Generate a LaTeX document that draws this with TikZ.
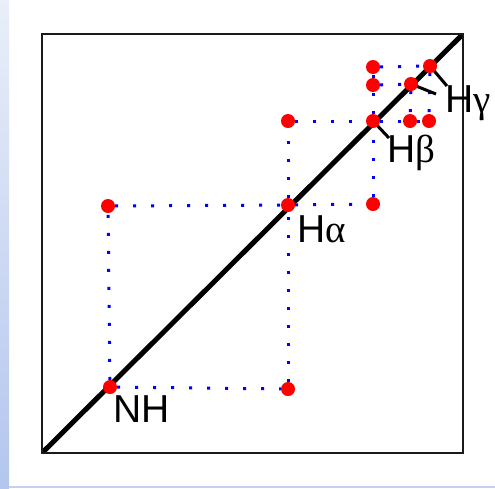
\documentclass[tikz,border=0pt]{standalone}
\usepackage{fontspec}
\setmainfont{Liberation Sans}
\newfontfamily\grk{Liberation Serif}
\usepackage{tikz}
\usetikzlibrary{
  calc,
  backgrounds
}
\definecolor{pkRed}{HTML}{FF0000}
\definecolor{pkBlue}{HTML}{0000FF}
\definecolor{pkFrame}{HTML}{1A1A1A}
\definecolor{bandTop}{HTML}{E9EEF9}
\definecolor{bandBot}{HTML}{B3C6EE}
\tikzset{
  peak/.style={circle, fill=pkRed, draw=none, inner sep=0pt, minimum size=14pt},
  xpeak/.style={peak},
  xlink/.style={pkBlue, line width=3pt, dash pattern=on 3pt off 15pt},
  diagline/.style={line width=5pt, black},
  frame/.style={line width=2pt, draw=pkFrame},
  tickline/.style={line width=3pt, black},
  lbl/.style={font=\fontsize{39}{42}\selectfont, inner sep=0pt, anchor=base west}
}

\begin{document}
\begin{tikzpicture}[x=1pt, y=-1pt]
  \useasboundingbox (0,0) rectangle (495,488);
  % slide background
  \shade[top color=bandTop, bottom color=bandBot] (0,0) rectangle (9,488);
  \fill[bandBot!80] (9,486) rectangle (495,488);

  % spectrum frame and diagonal
  \coordinate (bl) at (42,453);
  \coordinate (tr) at (463,34);
  \begin{scope}
    \clip (bl) rectangle (tr);
    \draw[diagline] (bl) -- (tr);
  \end{scope}
  \draw[frame] (bl) rectangle (tr);

  % diagonal peaks
  \node[peak] (nh)  at (110,387) {};
  \node[peak] (ha)  at (288,205) {};
  \node[peak] (hb)  at (373,121) {};
  \node[peak] (hg1) at (411,84) {};
  \node[peak] (hg2) at (430,66) {};

  % cross peaks
  \node[xpeak] (x1) at (288,389) {};
  \node[xpeak] (x2) at (108,206) {};
  \node[xpeak] (x3) at (373,204) {};
  \node[xpeak] (x4) at (288,121) {};
  \node[xpeak] (x5) at (410,121) {};
  \node[xpeak] (x6) at (429,121) {};
  \node[xpeak] (x7) at (373,85) {};
  \node[xpeak] (x8) at (373,67) {};

  % walk through the spin system
  \begin{scope}[on background layer]
    \draw[xlink] (nh) -- (x1);
    \draw[xlink] (x1) -- (ha);
    \draw[xlink] (nh) -- (x2);
    \draw[xlink] (x2) -- (ha);
    \draw[xlink] (ha) -- (x3);
    \draw[xlink] (x3) -- (hb);
    \draw[xlink] (ha) -- (x4);
    \draw[xlink] (x4) -- (hb);
    \draw[xlink] (hb) -- (x5);
    \draw[xlink] (x5) -- (x6);
    \draw[xlink] (hb) -- (x7);
    \draw[xlink] (x7) -- (x8);
    \draw[xlink] (x7) -- (hg1);
    \draw[xlink] (x8) -- (hg2);
    \draw[xlink] (hg1) -- (x5);
    \draw[xlink] (hg2) -- (x6);
  \end{scope}

  % labels
  \coordinate (tb)  at (389,138);
  \coordinate (tg1) at (436,94);
  \coordinate (tg2) at (447,86);
  \begin{scope}[on background layer]
    \draw[tickline] (hb.center) -- (tb);
    \draw[tickline] (hg1.center) -- (tg1);
    \draw[tickline] (hg2.center) -- (tg2);
  \end{scope}
  \node[lbl] (lnh) at (113,422) {NH};
  \node[lbl] (lha) at (297,242) {H{\grk α}};
  \node[lbl] (lhb) at (387,162) {H{\grk β}};
  \node[lbl] (lhg) at (445,112) {H{\grk γ}};
\end{tikzpicture}
\end{document}
